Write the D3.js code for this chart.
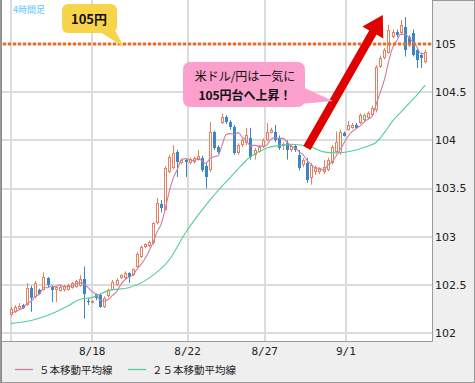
<!DOCTYPE html>
<html><head><meta charset="utf-8">
<script src="https://cdn.jsdelivr.net/npm/d3@7"></script>
<style>html,body{margin:0;padding:0;background:#fff;} svg{display:block;}</style>
</head><body>
<svg id="c" width="475" height="383"></svg>
<script>
// 4-hour USD/JPY candles (index 0 = first visible bar)
const opens = [102.19,102.22,102.25,102.29,102.29,102.47,102.37,102.45,102.45,102.57,
102.48,102.45,102.44,102.45,102.45,102.47,102.48,102.49,102.56,102.33,
102.32,102.40,102.39,102.27,102.38,102.45,102.50,102.57,102.57,102.62,
102.60,102.68,102.79,102.89,102.90,102.93,103.14,103.34,103.28,103.67,
103.71,103.88,103.76,103.80,103.76,103.77,103.80,103.82,103.73,103.69,
104.09,103.93,104.18,104.24,104.19,104.14,103.87,103.95,103.97,104.02,
103.85,103.88,103.93,104.00,104.08,104.09,104.02,103.94,103.97,103.90,
103.94,103.85,103.74,103.76,103.61,103.67,103.67,103.67,103.69,103.76,
103.88,103.87,104.08,104.11,104.13,104.16,104.18,104.21,104.23,104.26,
104.31,104.76,104.85,104.91,105.07,105.12,105.11,105.18,105.07,105.11,
104.94,104.89,104.81];
const highs = [102.27,102.29,102.31,102.30,102.52,102.49,102.54,102.46,102.63,102.58,
102.49,102.49,102.49,102.50,102.51,102.53,102.55,102.60,102.69,102.36,
102.34,102.41,102.41,102.38,102.46,102.55,102.57,102.61,102.64,102.63,
102.67,102.84,102.91,102.93,102.96,103.15,103.40,103.38,103.73,103.85,
103.95,103.90,103.81,103.81,103.82,103.83,103.90,103.84,103.76,104.19,
104.10,103.95,104.28,104.26,104.21,104.16,103.97,104.02,104.13,104.13,
103.92,103.95,104.02,104.18,104.13,104.16,104.05,103.98,104.00,103.96,
103.96,103.90,103.82,103.82,103.76,103.74,103.72,103.80,103.82,103.95,
104.09,104.11,104.09,104.20,104.18,104.18,104.28,104.28,104.30,104.36,
104.78,104.88,104.96,105.20,105.15,105.15,105.25,105.28,105.09,105.15,
104.96,104.91,104.94];
const lows = [102.17,102.21,102.24,102.25,102.28,102.22,102.36,102.40,102.44,102.47,
102.32,102.32,102.43,102.43,102.44,102.46,102.47,102.48,102.15,102.29,
102.31,102.34,102.26,102.26,102.37,102.44,102.49,102.56,102.56,102.52,
102.59,102.67,102.78,102.88,102.89,102.92,103.13,103.25,103.27,103.66,
103.70,103.62,103.75,103.62,103.75,103.76,103.79,103.67,103.50,103.67,
103.90,103.86,104.17,104.17,104.11,103.85,103.85,103.93,103.95,103.80,
103.80,103.87,103.92,103.99,104.07,103.98,103.90,103.90,103.80,103.88,
103.88,103.69,103.72,103.56,103.54,103.64,103.65,103.65,103.68,103.75,
103.87,103.85,104.04,104.10,104.12,104.12,104.17,104.20,104.22,104.25,
104.29,104.75,104.84,104.90,105.06,105.07,105.10,104.87,104.97,104.87,
104.75,104.75,104.80];
const closes = [102.25,102.27,102.28,102.26,102.47,102.36,102.52,102.41,102.58,102.50,
102.45,102.48,102.48,102.49,102.50,102.52,102.54,102.56,102.41,102.32,
102.33,102.36,102.27,102.36,102.45,102.53,102.55,102.60,102.62,102.58,
102.66,102.82,102.89,102.92,102.94,103.14,103.35,103.30,103.71,103.83,
103.87,103.77,103.80,103.77,103.81,103.82,103.84,103.69,103.62,104.09,
103.92,103.88,104.24,104.19,104.14,103.87,103.95,104.00,104.06,103.83,
103.90,103.93,104.00,104.09,104.11,104.00,103.92,103.96,103.90,103.94,
103.90,103.71,103.80,103.59,103.74,103.72,103.70,103.72,103.80,103.93,
103.98,104.09,104.05,104.16,104.16,104.13,104.26,104.26,104.28,104.34,
104.76,104.85,104.94,105.15,105.12,105.09,105.20,104.94,104.99,104.89,
104.83,104.85,104.92];
// 5-bar moving average, one value per bar
const ma5 = [102.21,102.22,102.24,102.26,102.31,102.33,102.38,102.40,102.47,102.47,
102.49,102.48,102.50,102.48,102.48,102.49,102.51,102.52,102.51,102.47,
102.43,102.40,102.34,102.33,102.35,102.39,102.43,102.50,102.55,102.58,
102.60,102.66,102.71,102.77,102.85,102.94,103.05,103.13,103.29,103.47,
103.61,103.70,103.80,103.81,103.80,103.79,103.81,103.79,103.76,103.81,
103.83,103.84,103.95,104.06,104.07,104.06,104.08,104.03,104.00,103.94,
103.95,103.94,103.94,103.95,104.01,104.03,104.02,104.02,103.98,103.94,
103.92,103.88,103.85,103.79,103.75,103.71,103.71,103.69,103.74,103.77,
103.83,103.90,103.97,104.04,104.09,104.12,104.15,104.19,104.22,104.25,
104.38,104.50,104.63,104.81,104.96,105.03,105.10,105.10,105.07,105.02,
104.97,104.90,104.90];
// 25-bar moving average, read at selected bars
const ma25Idx = [0,5,10,14,17,20,24,29,34,39,43,49,55,59,63,67,69,74,77,80,85,88,90,92,94,96,98,100,102];
const ma25Val = [102.10,102.13,102.20,102.28,102.35,102.37,102.44,102.47,102.57,102.76,103.04,103.38,103.66,103.83,103.92,103.95,103.96,103.93,103.88,103.87,103.90,103.94,103.98,104.08,104.20,104.29,104.38,104.47,104.57];

const yTicks = [102, 102.5, 103, 103.5, 104, 104.5, 105];
const yTickLabels = ["102", "102.5", "103", "103.5", "104", "104.5", "105"];
const xTickIdx = [0, 20, 43.5, 62.5, 82.5];
const xTickLabels = ["", "8/18", "8/22", "8/27", "9/1"];
const seriesNames = ["５本移動平均線", "２５本移動平均線"];
const targetLevel = 105;
const arrowFrom = [72.9, 103.92], arrowTo = [91.6, 105.30];

const svg = d3.select("#c");
const W = 475, H = 383;
const plot = {l: 2, r: 432, t: 0, b: 341};
const x = d3.scaleLinear().domain([0, 102]).range([11, 425]);
const y = d3.scaleLinear().domain([102, 105]).range([333, 44]);
const JP = "'Noto Sans CJK JP', sans-serif";

svg.append("rect").attr("x",0.5).attr("y",0.5).attr("width",W-1).attr("height",H-1)
  .attr("fill","#efefef").attr("stroke","#9a9a9a");
svg.append("rect").attr("x",plot.l).attr("y",plot.t).attr("width",plot.r-plot.l).attr("height",plot.b-plot.t)
  .attr("fill","#fff");

// grid
const g = svg.append("g");
yTicks.forEach(v => {
  const yy = Math.round(y(v));
  g.append("line").attr("x1",plot.l).attr("x2",plot.r).attr("y1",yy).attr("y2",yy)
    .attr("stroke","#dcdcdc").attr("stroke-width",2);
});
xTickIdx.forEach(v => {
  const xx = Math.round(x(v));
  g.append("line").attr("x1",xx).attr("x2",xx).attr("y1",plot.t).attr("y2",plot.b)
    .attr("stroke","#dcdcdc").attr("stroke-width",2);
});
// plot borders
svg.append("line").attr("x1",1.5).attr("x2",1.5).attr("y1",0).attr("y2",H).attr("stroke","#8a8a8a");
svg.append("line").attr("x1",plot.l).attr("x2",plot.r+0.5).attr("y1",plot.b+0.5).attr("y2",plot.b+0.5).attr("stroke","#9a9a9a");
svg.append("line").attr("x1",plot.r+0.5).attr("x2",plot.r+0.5).attr("y1",0).attr("y2",plot.b+0.5).attr("stroke","#9a9a9a");

// axes labels
yTicks.forEach((v,k) => {
  svg.append("text").attr("x",435).attr("y",y(v)).attr("dy","0.36em")
    .attr("font-family","'DejaVu Sans', sans-serif").attr("font-size",11).attr("fill","#222")
    .text(yTickLabels[k]);
});
xTickIdx.forEach((v,k) => {
  svg.append("text").attr("x",x(v)).attr("y",355).attr("text-anchor","middle")
    .attr("font-family","'DejaVu Sans Mono', monospace").attr("font-size",11).attr("fill","#222")
    .text(xTickLabels[k]);
});

// candles
const upC = "#e6805f", dnC = "#3b86c6";
const cg = svg.append("g");
closes.forEach((c,i) => {
  const o = opens[i], hi = highs[i], lo = lows[i];
  const cx = Math.round(x(i));
  const up = c >= o;
  const col = up ? upC : dnC;
  cg.append("line").attr("x1",cx+0.5).attr("x2",cx+0.5).attr("y1",y(hi)).attr("y2",y(lo))
    .attr("stroke",col).attr("stroke-width",1);
  const top = Math.round(y(Math.max(o,c))), bot = Math.round(y(Math.min(o,c)));
  const h = Math.max(1, bot-top);
  if (up) {
    cg.append("rect").attr("x",cx-0.5).attr("y",top+0.5).attr("width",2).attr("height",Math.max(1,h-1))
      .attr("fill","#fff").attr("stroke",col).attr("stroke-width",1);
  } else {
    cg.append("rect").attr("x",cx-1).attr("y",top).attr("width",3).attr("height",h).attr("fill",col);
  }
});

// moving averages
const line = d3.line().curve(d3.curveMonotoneX);
svg.append("path").attr("d", line(ma25Idx.map((k,j)=>[x(k), y(ma25Val[j])])))
  .attr("fill","none").attr("stroke","#52cf92").attr("stroke-width",1.1);
svg.append("path").attr("d", line(ma5.map((v,i)=>[x(i), y(v)])))
  .attr("fill","none").attr("stroke","#c77fa8").attr("stroke-width",1.1);

// 105 target line
svg.append("line").attr("x1",plot.l+1).attr("x2",plot.r).attr("y1",y(targetLevel)).attr("y2",y(targetLevel))
  .attr("stroke","#f26a1b").attr("stroke-width",3).attr("stroke-dasharray","3,2");

// red arrow
(function(){
  const x0 = x(arrowFrom[0]), y0 = y(arrowFrom[1]);
  const x1 = x(arrowTo[0]), y1 = y(arrowTo[1]);
  const dx = x1-x0, dy = y1-y0, L = Math.hypot(dx,dy);
  const ux = dx/L, uy = dy/L, px = -uy, py = ux;
  const hl = 20, hw = 12, sw = 4.2;
  const bx = x1-ux*hl, by = y1-uy*hl;
  const pts = [
    [x0+px*sw, y0+py*sw], [bx+px*sw, by+py*sw], [bx+px*hw, by+py*hw], [x1,y1],
    [bx-px*hw, by-py*hw], [bx-px*sw, by-py*sw], [x0-px*sw, y0-py*sw]];
  svg.append("polygon").attr("points", pts.map(p=>p.join(",")).join(" ")).attr("fill","#e00000");
})();

// pink callout
svg.append("path").attr("d","M300,86 L333,101 L300,104 Z").attr("fill","#fb9fcd");
svg.append("rect").attr("x",183).attr("y",62).attr("width",122).attr("height",45).attr("rx",7)
  .attr("fill","#fb9fcd");
svg.append("text").attr("x",245).attr("y",81).attr("text-anchor","middle")
  .attr("font-family",JP).attr("font-size",12).attr("fill","#111").text("米ドル/円は一気に");
svg.append("text").attr("x",245).attr("y",100).attr("text-anchor","middle")
  .attr("font-family",JP).attr("font-size",12).attr("font-weight","bold").attr("fill","#111").text("105円台へ上昇！");

// yellow label
svg.append("path").attr("d","M100,32 L124,47 L116,32 Z").attr("fill","#f7d54b");
svg.append("rect").attr("x",62).attr("y",4).attr("width",55).attr("height",29).attr("rx",6).attr("fill","#f7d54b");
svg.append("text").attr("x",89).attr("y",24).attr("text-anchor","middle")
  .attr("font-family",JP).attr("font-size",13).attr("font-weight","bold").attr("fill","#111").text("105円");

// timeframe label
svg.append("text").attr("x",13).attr("y",13).attr("font-family",JP).attr("font-size",9)
  .attr("fill","#5cc6f2").text("4時間足");

// legend
const legCols = ["#c77fa8", "#52cf92"];
const legX = [15, 128];
seriesNames.forEach((n,k) => {
  svg.append("line").attr("x1",legX[k]).attr("x2",legX[k]+18).attr("y1",369.5).attr("y2",369.5)
    .attr("stroke",legCols[k]).attr("stroke-width",1.3);
  svg.append("text").attr("x",legX[k]+24).attr("y",374).attr("font-family",JP).attr("font-size",10.5)
    .attr("fill","#222").text(n);
});
</script>
</body></html>
